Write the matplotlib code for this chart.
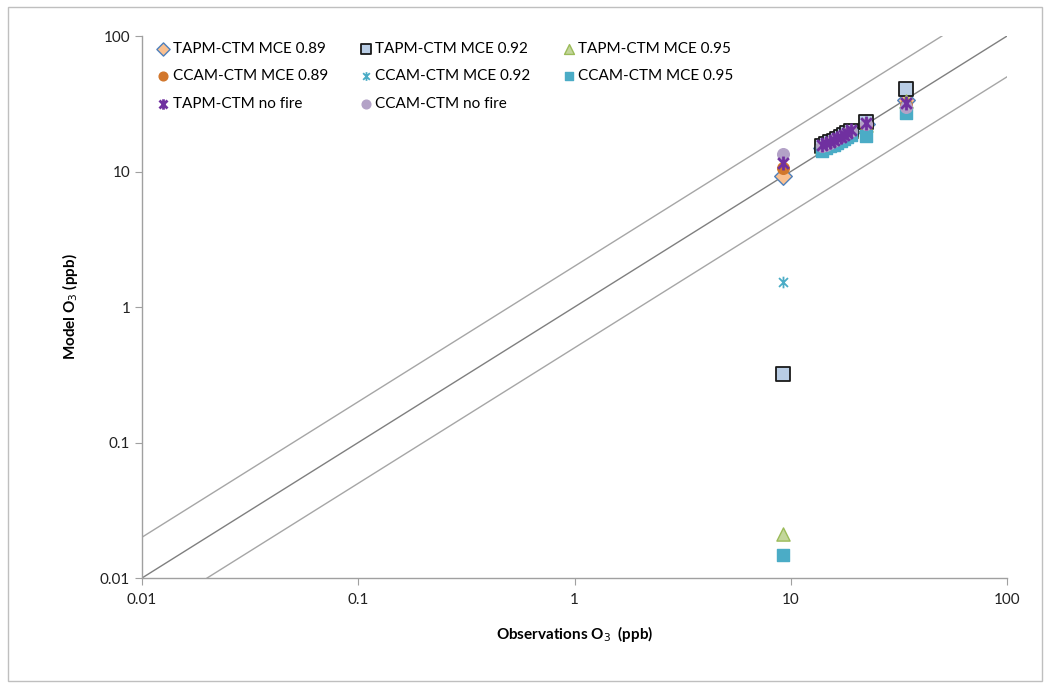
import matplotlib
matplotlib.use("Agg")
import matplotlib.pyplot as plt
from matplotlib.path import Path
from matplotlib.patches import Rectangle
from matplotlib.ticker import FixedLocator, FixedFormatter, NullLocator

plt.rcParams["font.family"] = ["Lato", "DejaVu Sans"]

# ---------------- DATA ----------------
obs = [9.2, 14.0, 14.6, 15.2, 15.8, 16.4, 17.0, 17.6, 18.2, 19.0, 22.3, 34.0]

tapm_089 = [9.3, 15.0, 15.6, 16.0, 16.6, 17.2, 17.6, 18.2, 18.8, 19.6, 22.5, 34.0]
tapm_092 = [0.32, 15.4, 15.9, 16.4, 16.9, 17.5, 18.0, 18.6, 19.2, 20.0, 23.2, 40.4]
tapm_095 = [0.021, 15.2, 15.7, 16.2, 16.8, 17.3, 17.8, 18.4, 19.0, 19.8, 22.0, 33.0]
ccam_089 = [10.6, 15.1, 15.6, 16.1, 16.7, 17.2, 17.7, 18.3, 18.9, 19.6, 22.2, 31.0]
ccam_092 = [1.53, 15.0, 15.5, 16.0, 16.5, 17.1, 17.6, 18.2, 18.7, 19.5, 22.6, 30.5]
ccam_095 = [0.0148, 14.2, 14.8, 15.3, 15.8, 16.3, 16.8, 17.4, 17.9, 18.6, 18.3, 26.9]
tapm_nofire = [11.5, 15.6, 16.1, 16.6, 17.1, 17.6, 18.1, 18.7, 19.3, 20.1, 22.8, 32.0]
ccam_nofire = [13.5, 15.3, 15.8, 16.3, 16.8, 17.4, 17.9, 18.5, 19.1, 19.9, 22.4, 30.0]

tick_vals = [0.01, 0.1, 1, 10, 100]
tick_labels = ["0.01", "0.1", "1", "10", "100"]

# Excel-style star: X with a vertical bar
star = Path([(-1, -1), (1, 1), (-1, 1), (1, -1), (0, -1.3), (0, 1.3)],
            [Path.MOVETO, Path.LINETO, Path.MOVETO, Path.LINETO,
             Path.MOVETO, Path.LINETO])

# (label, values, style, zorder) -- no-fire TAPM sits on top of the cluster
series = [
    ("TAPM-CTM MCE 0.89", tapm_089, dict(marker="D", s=80, facecolor="#FAC090", edgecolor="#4F81BD", linewidths=1.0), 3),
    ("TAPM-CTM MCE 0.92", tapm_092, dict(marker="s", s=110, facecolor="#B9CDE5", edgecolor="#1a1a1a", linewidths=1.3), 3),
    ("TAPM-CTM MCE 0.95", tapm_095, dict(marker="^", s=90, facecolor="#C3D69B", edgecolor="#9BBB59", linewidths=1.0), 3),
    ("CCAM-CTM MCE 0.89", ccam_089, dict(marker="o", s=70, color="#D2772C"), 3),
    ("CCAM-CTM MCE 0.92", ccam_092, dict(marker=star, s=70, color="#4BACC6", linewidths=1.3), 3),
    ("CCAM-CTM MCE 0.95", ccam_095, dict(marker="s", s=70, color="#4BACC6"), 3),
    ("TAPM-CTM no fire", tapm_nofire, dict(marker=star, s=100, color="#7030A0", linewidths=2.0), 5),
    ("CCAM-CTM no fire", ccam_nofire, dict(marker="o", s=70, color="#B3A2C7"), 4),
]

fig = plt.figure(figsize=(10.44, 6.86), dpi=100)
ax = fig.add_axes([0.136, 0.1574, 0.8286, 0.7901])

# reference lines: 2:1, 1:1, 1:2
ax.plot([0.01, 50], [0.02, 100], color="#A6A6A6", lw=1.0, zorder=1)
ax.plot([0.01, 100], [0.01, 100], color="#7F7F7F", lw=1.0, zorder=1)
ax.plot([0.02, 100], [0.01, 50], color="#A6A6A6", lw=1.0, zorder=1)

handles = []
for name, vals, style, z in series:
    handles.append(ax.scatter(obs, vals, label=name, zorder=z, **style))

ax.set_xscale("log")
ax.set_yscale("log")
ax.set_xlim(0.01, 100)
ax.set_ylim(0.01, 100)

ax.xaxis.set_major_locator(FixedLocator(tick_vals))
ax.xaxis.set_major_formatter(FixedFormatter(tick_labels))
ax.yaxis.set_major_locator(FixedLocator(tick_vals))
ax.yaxis.set_major_formatter(FixedFormatter(tick_labels))
ax.xaxis.set_minor_locator(NullLocator())
ax.yaxis.set_minor_locator(NullLocator())

for side in ["top", "right"]:
    ax.spines[side].set_visible(False)
for side in ["left", "bottom"]:
    ax.spines[side].set_color("#A0A0A0")
    ax.spines[side].set_linewidth(1.0)
ax.tick_params(axis="both", which="major", direction="out", length=5,
               color="#A0A0A0", labelsize=11, labelcolor="#222222")
ax.tick_params(axis="x", pad=6)

ax.set_xlabel("Observations O$_3$  (ppb)", fontsize=11, fontweight="bold", labelpad=12)
ax.set_ylabel("Model O$_3$ (ppb)", fontsize=11, fontweight="bold", labelpad=14)

# legend fills row by row in the original, matplotlib fills by column
order = [0, 3, 6, 1, 4, 7, 2, 5]
ax.legend([handles[i] for i in order], [series[i][0] for i in order],
          loc="upper left", ncol=3, frameon=False, fontsize=11,
          bbox_to_anchor=(0.0, 1.015), handletextpad=0.1, columnspacing=2.0,
          labelspacing=0.9, scatterpoints=1, markerscale=0.75, handlelength=1.0)

# light grey frame round the whole figure
fig.patches.append(Rectangle((0.008, 0.008), 0.99, 0.982, transform=fig.transFigure,
                             fill=False, edgecolor="#BFBFBF", lw=1.0))

fig.savefig("out.png", dpi=100)
